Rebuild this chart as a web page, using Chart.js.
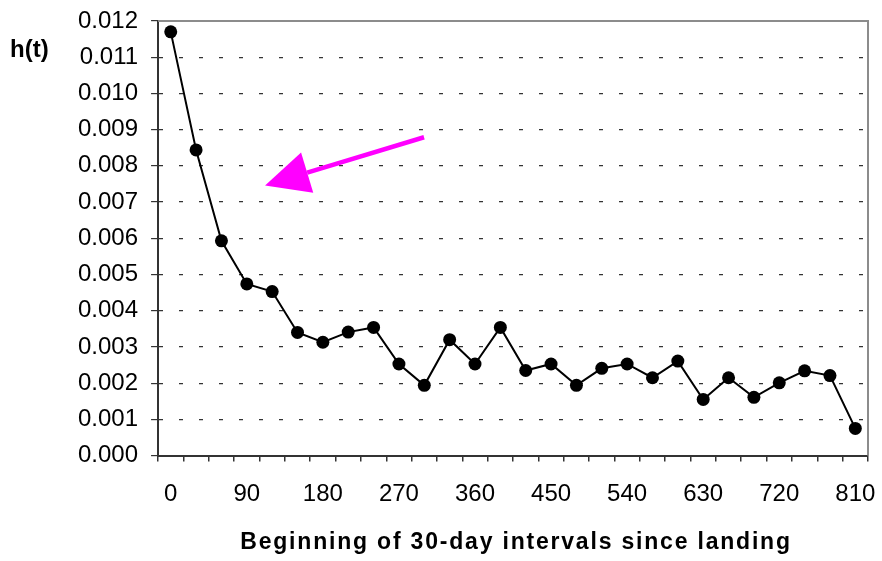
<!DOCTYPE html>
<html>
<head>
<meta charset="utf-8">
<script src="https://cdn.jsdelivr.net/npm/chart.js@4"></script>
<style>
  html, body { margin: 0; padding: 0; background: #fff; }
  #wrap { width: 882px; height: 561px; }
</style>
</head>
<body>
<div id="wrap"><canvas id="hazardChart"></canvas></div>
<script>
// start of each 30-day interval since landing
const days = [0, 30, 60, 90, 120, 150, 180, 210, 240, 270, 300, 330, 360, 390,
  420, 450, 480, 510, 540, 570, 600, 630, 660, 690, 720, 750, 780, 810];
// hazard h(t)
const hazard = [0.0117, 0.00844, 0.00593, 0.00474, 0.00453, 0.0034, 0.00313,
  0.00341, 0.00354, 0.00253, 0.00194, 0.0032, 0.00253, 0.00354, 0.00235,
  0.00253, 0.00194, 0.00241, 0.00253, 0.00215, 0.00261, 0.00155, 0.00215,
  0.00161, 0.00201, 0.00234, 0.00221, 0.00075];
const yTicks = [0, 0.001, 0.002, 0.003, 0.004, 0.005, 0.006, 0.007, 0.008,
  0.009, 0.010, 0.011, 0.012];
const xTitle = "Beginning of 30-day intervals since landing";
// magenta arrow, given as [category index, h(t)] for tail and tip
const arrowTail = [9.99, 0.00879];
const arrowTip = [3.72, 0.00746];

const FONT = "'Liberation Sans', Arial, sans-serif";

const extras = {
  id: "extras",
  afterDraw(chart) {
    const c = chart.ctx;
    const a = chart.chartArea;
    const x = chart.scales.x;
    const y = chart.scales.y;
    c.save();
    // grey frame on top and right
    c.strokeStyle = "#8c8c8c";
    c.lineWidth = 2;
    c.beginPath();
    c.moveTo(a.left, a.top);
    c.lineTo(a.right, a.top);
    c.lineTo(a.right, a.bottom);
    c.stroke();

    // arrow
    const tx = x.getPixelForValue(arrowTail[0]);
    const ty = y.getPixelForValue(arrowTail[1]);
    const hx = x.getPixelForValue(arrowTip[0]);
    const hy = y.getPixelForValue(arrowTip[1]);
    const ang = Math.atan2(hy - ty, hx - tx);
    const headLen = 44;
    const headHalf = 21;
    const bx = hx - headLen * Math.cos(ang);
    const by = hy - headLen * Math.sin(ang);
    c.strokeStyle = "#ff00ff";
    c.fillStyle = "#ff00ff";
    c.lineWidth = 4.5;
    c.beginPath();
    c.moveTo(tx, ty);
    c.lineTo(bx, by);
    c.stroke();
    c.beginPath();
    c.moveTo(hx, hy);
    c.lineTo(bx + headHalf * Math.sin(ang), by - headHalf * Math.cos(ang));
    c.lineTo(bx - headHalf * Math.sin(ang), by + headHalf * Math.cos(ang));
    c.closePath();
    c.fill();

    // horizontal y label
    c.fillStyle = "#000";
    c.font = "bold 24px " + FONT;
    c.textAlign = "left";
    c.textBaseline = "middle";
    c.fillText("h(t)", 10, 50);

    // x title, drawn by hand for the wider letter spacing
    c.font = "bold 23px " + FONT;
    c.letterSpacing = "1.8px";
    c.textAlign = "center";
    c.fillText(xTitle, (a.left + a.right) / 2 + 3, 543);
    c.restore();
  },
};

new Chart(document.getElementById("hazardChart"), {
  type: "line",
  data: {
    labels: days,
    datasets: [
      {
        data: hazard,
        borderColor: "#000",
        borderWidth: 2,
        backgroundColor: "#000",
        pointRadius: 6.5,
        pointBackgroundColor: "#000",
        pointBorderWidth: 0,
        tension: 0,
      },
    ],
  },
  options: {
    responsive: true,
    maintainAspectRatio: false,
    animation: false,
    layout: { padding: { left: 65, right: 14, top: 21, bottom: 2 } },
    plugins: {
      legend: { display: false },
      tooltip: { enabled: false },
    },
    scales: {
      x: {
        type: "category",
        offset: true,
        afterFit: (axis) => {
          axis.paddingLeft = 0;
          axis.paddingRight = 0;
        },
        border: { color: "#333", width: 2 },
        grid: {
          offset: true,
          drawOnChartArea: false,
          tickLength: 6,
          tickColor: "#333",
          lineWidth: 1.5,
        },
        ticks: {
          autoSkip: false,
          maxRotation: 0,
          padding: 18,
          color: "#000",
          font: { family: FONT, size: 24 },
          callback: (v, i) => (i % 3 === 0 ? String(days[i]) : ""),
        },
        title: {
          display: true,
          text: xTitle,
          color: "rgba(0,0,0,0)",
          font: { family: FONT, size: 23, weight: "bold" },
          padding: { top: 5, bottom: 0 },
        },
      },
      y: {
        min: 0,
        max: 0.012,
        afterFit: (axis) => {
          axis.paddingTop = 0;
          axis.paddingBottom = 0;
        },
        border: { color: "#333", width: 2, dash: [4, 16] },
        afterBuildTicks: (axis) => {
          axis.ticks = yTicks.map((v) => ({ value: v }));
        },
        grid: {
          color: (ctx) =>
            ctx.tick && (ctx.tick.value === 0 || ctx.tick.value >= 0.012)
              ? "rgba(0,0,0,0)"
              : "#333",
          lineWidth: 1.2,
          tickBorderDash: [],
          tickLength: 7,
          tickColor: "#333",
        },
        ticks: {
          padding: 13,
          color: "#000",
          font: { family: FONT, size: 24 },
          callback: (v) => Number(v).toFixed(3),
        },
      },
    },
  },
  plugins: [extras],
});
</script>
</body>
</html>
